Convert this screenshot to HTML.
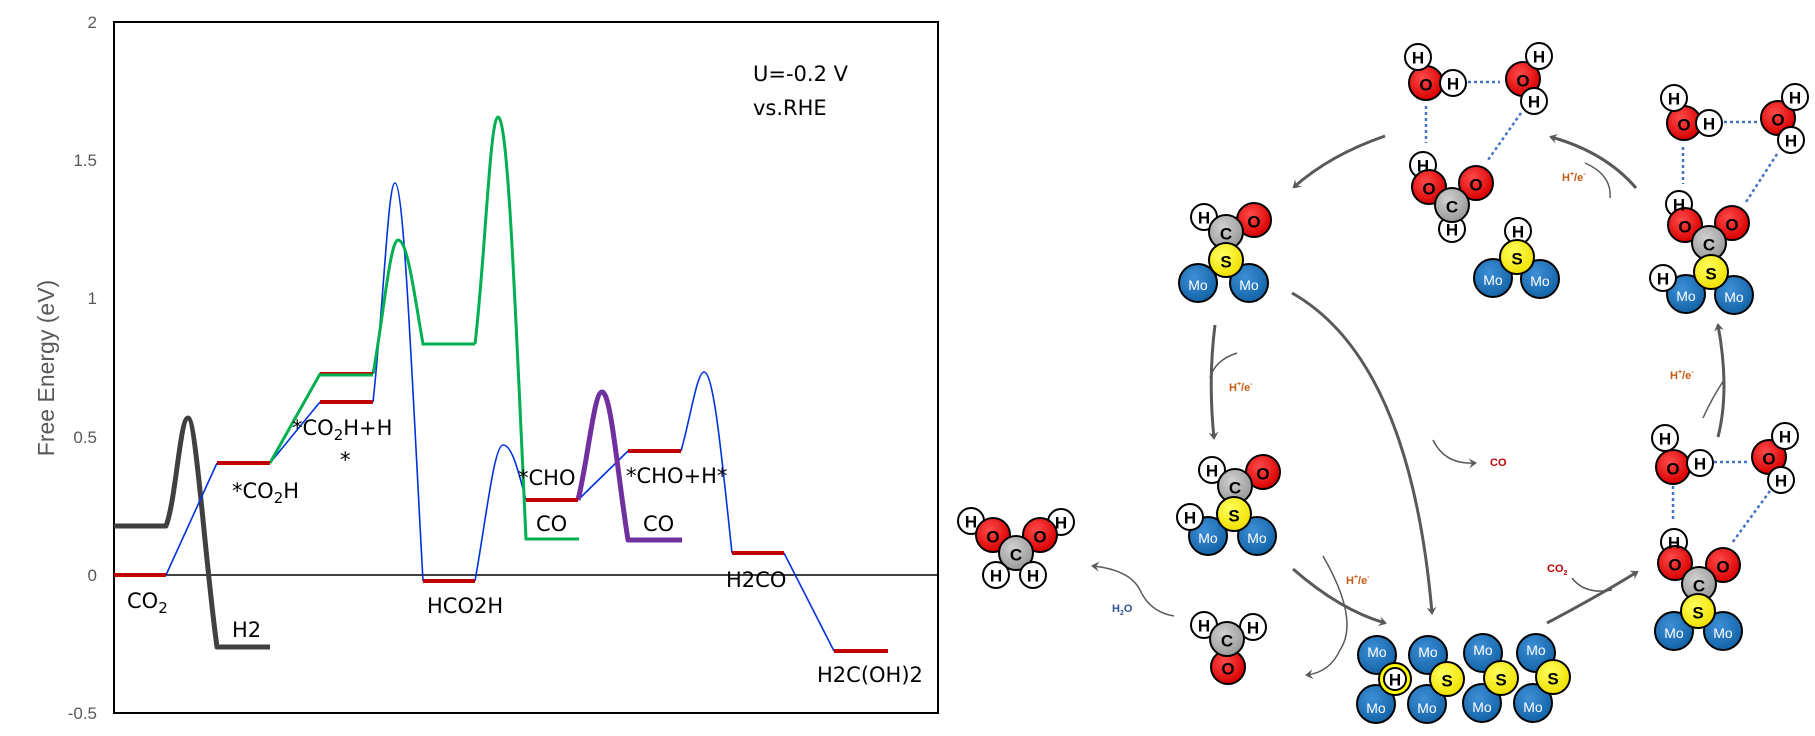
<!DOCTYPE html>
<html><head><meta charset="utf-8"><style>
html,body{margin:0;padding:0;background:#fff;}
svg{display:block;}
.t{font-family:"DejaVu Sans","Liberation Sans",sans-serif;font-size:21px;fill:#000;}
.tk{font-family:"Liberation Sans",sans-serif;font-size:17px;fill:#595959;text-anchor:end;}
.a text{font-family:"Liberation Sans",sans-serif;font-weight:bold;text-anchor:middle;dominant-baseline:central;}
.l{font-family:"Liberation Sans",sans-serif;font-weight:bold;font-size:11px;}
</style></head><body>
<svg width="1815" height="736" viewBox="0 0 1815 736" xmlns="http://www.w3.org/2000/svg">
<defs>
<marker id="ah" markerWidth="10" markerHeight="10" refX="6" refY="5" orient="auto" markerUnits="userSpaceOnUse">
<path d="M0,0 L8,5 L0,10 L3,5 Z" fill="#595959"/></marker>
<radialGradient id="gO" cx="40%" cy="35%" r="65%"><stop offset="0" stop-color="#ff4a4a"/><stop offset="1" stop-color="#d80000"/></radialGradient>
<radialGradient id="gC" cx="40%" cy="35%" r="65%"><stop offset="0" stop-color="#d0d0d0"/><stop offset="1" stop-color="#9a9a9a"/></radialGradient>
<radialGradient id="gS" cx="40%" cy="35%" r="65%"><stop offset="0" stop-color="#ffff60"/><stop offset="1" stop-color="#f0e000"/></radialGradient>
<radialGradient id="gM" cx="40%" cy="35%" r="65%"><stop offset="0" stop-color="#3d8fd6"/><stop offset="1" stop-color="#1464a8"/></radialGradient>
</defs>

<!-- ===== Chart ===== -->
<rect x="114" y="22" width="824" height="691" fill="none" stroke="#000" stroke-width="2"/>
<line x1="114" y1="575" x2="938" y2="575" stroke="#000" stroke-width="1.5"/>
<text class="tk" x="97" y="28">2</text>
<text class="tk" x="97" y="166">1.5</text>
<text class="tk" x="97" y="304">1</text>
<text class="tk" x="97" y="443">0.5</text>
<text class="tk" x="97" y="581">0</text>
<text class="tk" x="97" y="719">-0.5</text>
<text x="54" y="368" transform="rotate(-90 54 368)" text-anchor="middle" style="font-family:'Liberation Sans',sans-serif;font-size:23px;fill:#595959">Free Energy (eV)</text>

<path d="M114,526 L166,526 C176,500 180,418 188,418 C196,418 205,560 217,647 L270,647" fill="none" stroke="#404040" stroke-width="5" stroke-linejoin="round"/>
<g fill="none" stroke="#0033dd" stroke-width="1.6">
<path d="M166,575 L217,463 M270,463 L320,402"/>
<path d="M373,402 C384,300 388,183 395,183 C404,183 412,380 423,581"/>
<path d="M475,581 C486,520 494,445 503,445 C512,445 518,470 526,500"/>
<path d="M578,500 L628,451"/>
<path d="M681,451 C690,420 697,372 704,372 C714,372 722,460 732,553"/>
<path d="M784,553 L834,651"/>
</g>
<g fill="none" stroke="#00b050" stroke-width="3">
<path d="M270,463 L320,374 L373,374"/>
<path d="M373,374 C383,320 390,240 398,240 C408,240 415,300 423,344 L475,344"/>
<path d="M475,344 C485,260 490,117 498,117 C508,117 515,300 526,539 L579,539"/>
</g>
<path d="M578,500 C588,460 594,392 602,392 C611,392 617,470 628,540 L682,540" fill="none" stroke="#7030a0" stroke-width="5" stroke-linejoin="round"/>
<g stroke="#c00000" stroke-width="4">
<line x1="114" y1="575" x2="166" y2="575"/>
<line x1="217" y1="463" x2="270" y2="463"/>
<line x1="320" y1="402" x2="373" y2="402"/>
<line x1="320" y1="373" x2="373" y2="373" stroke-width="2"/>
<line x1="423" y1="581" x2="475" y2="581"/>
<line x1="526" y1="500" x2="578" y2="500"/>
<line x1="628" y1="451" x2="681" y2="451"/>
<line x1="732" y1="553" x2="784" y2="553"/>
<line x1="834" y1="651" x2="888" y2="651"/>
</g>
<line x1="320" y1="375" x2="373" y2="375" stroke="#00b050" stroke-width="3"/>
<text class="t" x="127" y="608">CO<tspan font-size="15" dy="5">2</tspan></text>
<text class="t" x="232" y="637">H2</text>
<text class="t" x="232" y="498">*CO<tspan font-size="15" dy="5">2</tspan><tspan dy="-5">H</tspan></text>
<text class="t" x="292" y="435">*CO<tspan font-size="15" dy="5">2</tspan><tspan dy="-5">H+H</tspan></text>
<text class="t" x="340" y="467">*</text>
<text class="t" x="427" y="613">HCO2H</text>
<text class="t" x="518" y="485">*CHO</text>
<text class="t" x="536" y="531">CO</text>
<text class="t" x="643" y="531">CO</text>
<text class="t" x="626" y="483">*CHO+H*</text>
<text class="t" x="726" y="587">H2CO</text>
<text class="t" x="817" y="682">H2C(OH)2</text>
<text class="t" x="753" y="81">U=-0.2 V</text>
<text class="t" x="753" y="115">vs.RHE</text>

<g fill="none" stroke="#595959">
<path d="M1385,136 Q1330,155 1294,187" stroke-width="3" marker-end="url(#ah)"/>
<path d="M1636,188 Q1605,152 1551,137" stroke-width="3" marker-end="url(#ah)"/>
<path d="M1610,198 Q1612,175 1585,163" stroke-width="1.5"/>
<path d="M1292,293 Q1410,360 1432,613" stroke-width="3" marker-end="url(#ah)"/>
<path d="M1433,440 Q1445,465 1475,463" stroke-width="1.5" marker-end="url(#ah)"/>
<path d="M1215,325 Q1208,380 1214,438" stroke-width="3" marker-end="url(#ah)"/>
<path d="M1237,353 Q1215,360 1210,378" stroke-width="1.5"/>
<path d="M1174,616 Q1150,612 1140,590 Q1130,570 1093,566" stroke-width="1.5" marker-end="url(#ah)"/>
<path d="M1293,569 Q1340,610 1385,623" stroke-width="3" marker-end="url(#ah)"/>
<path d="M1323,556 Q1360,620 1340,650 Q1330,672 1307,675" stroke-width="1.5" marker-end="url(#ah)"/>
<path d="M1547,623 Q1600,595 1637,572" stroke-width="3" marker-end="url(#ah)"/>
<path d="M1572,578 Q1585,595 1612,590" stroke-width="1.5"/>
<path d="M1718,437 Q1730,390 1718,325" stroke-width="3" marker-end="url(#ah)"/>
<path d="M1703,418 Q1712,398 1724,380" stroke-width="1.5"/>
</g>
<g class="l" fill="#c55a11">
<text x="1562" y="181">H<tspan font-size="7" dy="-5">+</tspan><tspan dy="5">/e</tspan><tspan font-size="7" dy="-5">-</tspan></text>
<text x="1229" y="391">H<tspan font-size="7" dy="-5">+</tspan><tspan dy="5">/e</tspan><tspan font-size="7" dy="-5">-</tspan></text>
<text x="1346" y="584">H<tspan font-size="7" dy="-5">+</tspan><tspan dy="5">/e</tspan><tspan font-size="7" dy="-5">-</tspan></text>
<text x="1670" y="379">H<tspan font-size="7" dy="-5">+</tspan><tspan dy="5">/e</tspan><tspan font-size="7" dy="-5">-</tspan></text>
</g>
<text class="l" x="1490" y="466" fill="#c00000">CO</text>
<text class="l" x="1547" y="572" fill="#c00000">CO<tspan font-size="7" dy="3">2</tspan></text>
<text class="l" x="1112" y="612" fill="#2f5597">H<tspan font-size="7" dy="3">2</tspan><tspan dy="-3">O</tspan></text>

<g stroke="#4472c4" stroke-width="2.5" stroke-dasharray="3,3" fill="none">
<line x1="1468" y1="82" x2="1500" y2="82"/>
<line x1="1426" y1="106" x2="1426" y2="143"/>
<line x1="1521" y1="113" x2="1488" y2="160"/>
<line x1="1724" y1="122" x2="1758" y2="122"/>
<line x1="1683" y1="147" x2="1683" y2="184"/>
<line x1="1777" y1="154" x2="1746" y2="202"/>
<line x1="1714" y1="462" x2="1748" y2="462"/>
<line x1="1673" y1="486" x2="1673" y2="521"/>
<line x1="1770" y1="491" x2="1732" y2="543"/>
</g>

<g class="a" stroke="#000" stroke-width="2">
<circle cx="1426" cy="83" r="17" fill="url(#gO)"/><circle cx="1418" cy="57" r="13" fill="#fff"/><circle cx="1453" cy="83" r="13" fill="#fff"/>
<circle cx="1523" cy="79" r="17" fill="url(#gO)"/><circle cx="1539" cy="56" r="13" fill="#fff"/><circle cx="1534" cy="101" r="13" fill="#fff"/>
<circle cx="1423" cy="165" r="13" fill="#fff"/><circle cx="1429" cy="187" r="17" fill="url(#gO)"/><circle cx="1476" cy="183" r="17" fill="url(#gO)"/>
<circle cx="1452" cy="229" r="13" fill="#fff"/><circle cx="1452" cy="205" r="17" fill="url(#gC)"/>
<circle cx="1493" cy="278" r="19" fill="url(#gM)"/><circle cx="1540" cy="279" r="19" fill="url(#gM)"/>
<circle cx="1518" cy="231" r="13" fill="#fff"/><circle cx="1517" cy="257" r="17" fill="url(#gS)"/>
<circle cx="1684" cy="123" r="17" fill="url(#gO)"/><circle cx="1674" cy="98" r="13" fill="#fff"/><circle cx="1709" cy="123" r="13" fill="#fff"/>
<circle cx="1778" cy="118" r="17" fill="url(#gO)"/><circle cx="1795" cy="97" r="13" fill="#fff"/><circle cx="1791" cy="140" r="13" fill="#fff"/>
<circle cx="1686" cy="294" r="19" fill="url(#gM)"/><circle cx="1734" cy="295" r="19" fill="url(#gM)"/>
<circle cx="1663" cy="278" r="13" fill="#fff"/>
<circle cx="1679" cy="204" r="13" fill="#fff"/><circle cx="1685" cy="225" r="17" fill="url(#gO)"/><circle cx="1732" cy="223" r="17" fill="url(#gO)"/>
<circle cx="1709" cy="243" r="17" fill="url(#gC)"/><circle cx="1711" cy="272" r="17" fill="url(#gS)"/>
<circle cx="1198" cy="283" r="19" fill="url(#gM)"/><circle cx="1249" cy="283" r="19" fill="url(#gM)"/>
<circle cx="1204" cy="217" r="13" fill="#fff"/><circle cx="1254" cy="220" r="17" fill="url(#gO)"/>
<circle cx="1226" cy="232" r="17" fill="url(#gC)"/><circle cx="1226" cy="260" r="17" fill="url(#gS)"/>
<circle cx="1208" cy="536" r="19" fill="url(#gM)"/><circle cx="1257" cy="536" r="19" fill="url(#gM)"/>
<circle cx="1190" cy="517" r="13" fill="#fff"/>
<circle cx="1212" cy="470" r="13" fill="#fff"/><circle cx="1263" cy="472" r="17" fill="url(#gO)"/>
<circle cx="1235" cy="486" r="17" fill="url(#gC)"/><circle cx="1234" cy="514" r="17" fill="url(#gS)"/>
<circle cx="971" cy="521" r="13" fill="#fff"/><circle cx="1061" cy="522" r="13" fill="#fff"/>
<circle cx="993" cy="535" r="17" fill="url(#gO)"/><circle cx="1040" cy="535" r="17" fill="url(#gO)"/>
<circle cx="1016" cy="553" r="17" fill="url(#gC)"/>
<circle cx="996" cy="575" r="13" fill="#fff"/><circle cx="1033" cy="575" r="13" fill="#fff"/>
<circle cx="1204" cy="625" r="13" fill="#fff"/><circle cx="1253" cy="627" r="13" fill="#fff"/>
<circle cx="1228" cy="667" r="17" fill="url(#gO)"/><circle cx="1227" cy="639" r="17" fill="url(#gC)"/>
<circle cx="1377" cy="655" r="19" fill="url(#gM)"/><circle cx="1428" cy="655" r="19" fill="url(#gM)"/><circle cx="1483" cy="653" r="19" fill="url(#gM)"/><circle cx="1536" cy="653" r="19" fill="url(#gM)"/>
<circle cx="1376" cy="704" r="19" fill="url(#gM)"/><circle cx="1427" cy="704" r="19" fill="url(#gM)"/><circle cx="1482" cy="703" r="19" fill="url(#gM)"/><circle cx="1533" cy="703" r="19" fill="url(#gM)"/>
<circle cx="1395" cy="679" r="16" fill="#ffff00"/><circle cx="1395" cy="679" r="11" fill="#fff"/>
<circle cx="1447" cy="679" r="17" fill="url(#gS)"/><circle cx="1501" cy="678" r="17" fill="url(#gS)"/><circle cx="1553" cy="677" r="17" fill="url(#gS)"/>
<circle cx="1673" cy="467" r="17" fill="url(#gO)"/><circle cx="1665" cy="438" r="13" fill="#fff"/><circle cx="1700" cy="463" r="13" fill="#fff"/>
<circle cx="1769" cy="457" r="17" fill="url(#gO)"/><circle cx="1785" cy="436" r="13" fill="#fff"/><circle cx="1781" cy="480" r="13" fill="#fff"/>
<circle cx="1674" cy="631" r="19" fill="url(#gM)"/><circle cx="1723" cy="631" r="19" fill="url(#gM)"/>
<circle cx="1674" cy="542" r="13" fill="#fff"/><circle cx="1675" cy="563" r="17" fill="url(#gO)"/><circle cx="1723" cy="565" r="17" fill="url(#gO)"/>
<circle cx="1699" cy="584" r="17" fill="url(#gC)"/><circle cx="1698" cy="611" r="17" fill="url(#gS)"/>
</g>

<g style="font-family:'Liberation Sans Narrow','Liberation Sans',sans-serif;font-weight:bold;" text-anchor="middle" dominant-baseline="central" font-size="17" fill="#000">
<text x="1426" y="85">O</text><text x="1418" y="58">H</text><text x="1453" y="84">H</text>
<text x="1523" y="81">O</text><text x="1539" y="57">H</text><text x="1534" y="102">H</text>
<text x="1423" y="166">H</text><text x="1429" y="189">O</text><text x="1476" y="185">O</text><text x="1452" y="230">H</text><text x="1452" y="207">C</text>
<text x="1518" y="232">H</text><text x="1517" y="259">S</text>
<text x="1684" y="125">O</text><text x="1674" y="99">H</text><text x="1709" y="124">H</text>
<text x="1778" y="120">O</text><text x="1795" y="98">H</text><text x="1791" y="141">H</text>
<text x="1663" y="279">H</text><text x="1679" y="205">H</text><text x="1685" y="227">O</text><text x="1732" y="225">O</text><text x="1709" y="245">C</text><text x="1711" y="274">S</text>
<text x="1204" y="218">H</text><text x="1254" y="222">O</text><text x="1226" y="234">C</text><text x="1226" y="262">S</text>
<text x="1190" y="518">H</text><text x="1212" y="471">H</text><text x="1263" y="474">O</text><text x="1235" y="488">C</text><text x="1234" y="516">S</text>
<text x="971" y="522">H</text><text x="1061" y="523">H</text><text x="993" y="537">O</text><text x="1040" y="537">O</text><text x="1016" y="555">C</text><text x="996" y="576">H</text><text x="1033" y="576">H</text>
<text x="1204" y="626">H</text><text x="1253" y="628">H</text><text x="1228" y="669">O</text><text x="1227" y="641">C</text>
<text x="1395" y="680">H</text><text x="1447" y="681">S</text><text x="1501" y="680">S</text><text x="1553" y="679">S</text>
<text x="1673" y="469">O</text><text x="1665" y="439">H</text><text x="1700" y="464">H</text>
<text x="1769" y="459">O</text><text x="1785" y="437">H</text><text x="1781" y="481">H</text>
<text x="1674" y="543">H</text><text x="1675" y="565">O</text><text x="1723" y="567">O</text><text x="1699" y="586">C</text><text x="1698" y="613">S</text>
</g>
<g style="font-family:'Liberation Sans Narrow','Liberation Sans',sans-serif;" text-anchor="middle" dominant-baseline="central" font-size="14" fill="#fff">
<text x="1493" y="280">Mo</text><text x="1540" y="281">Mo</text>
<text x="1686" y="296">Mo</text><text x="1734" y="297">Mo</text>
<text x="1198" y="285">Mo</text><text x="1249" y="285">Mo</text>
<text x="1208" y="538">Mo</text><text x="1257" y="538">Mo</text>
<text x="1377" y="652">Mo</text><text x="1428" y="652">Mo</text><text x="1483" y="650">Mo</text><text x="1536" y="650">Mo</text>
<text x="1376" y="708">Mo</text><text x="1427" y="708">Mo</text><text x="1482" y="707">Mo</text><text x="1533" y="707">Mo</text>
<text x="1674" y="633">Mo</text><text x="1723" y="633">Mo</text>
</g>
</svg>
</body></html>
